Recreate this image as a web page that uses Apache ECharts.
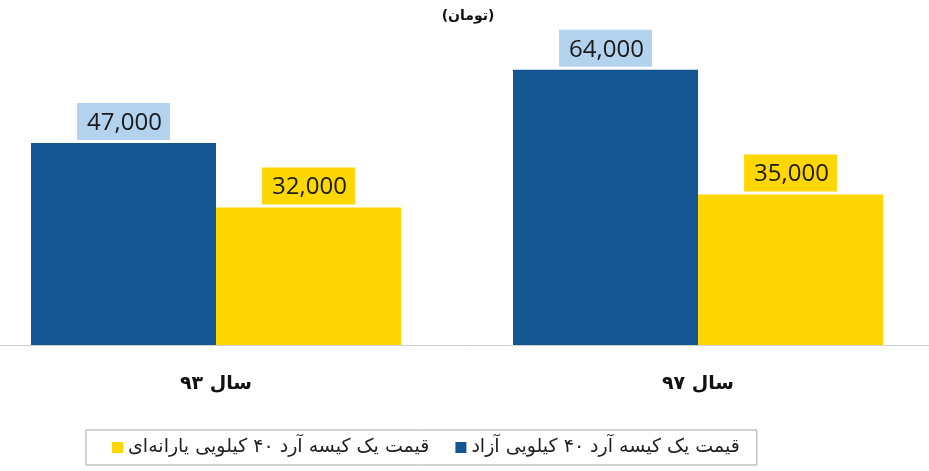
<!DOCTYPE html>
<html>
<head>
<meta charset="utf-8">
<script src="https://cdn.jsdelivr.net/npm/echarts@6/dist/echarts.min.js"></script>
<style>html,body{margin:0;padding:0;background:#fff}#c{width:929px;height:471px}</style>
</head>
<body>
<div id="c"></div>
<script>
const categories = ['سال ۹۳', 'سال ۹۷'];
const seriesNames = ['قیمت یک کیسه آرد ۴۰ کیلویی آزاد', 'قیمت یک کیسه آرد ۴۰ کیلویی یارانه‌ای'];
const freeValues = [47000, 64000];
const subsidizedValues = [32000, 35000];
const unitTitle = '(تومان)';

const fmt = v => v.toLocaleString('en-US');
const chart = echarts.init(document.getElementById('c'));
const labelBase = {
  show: true, position: 'top', distance: 3,
  fontFamily: 'Open Sans', fontSize: 24, color: '#1a1a1a',
  padding: [8, 8, 5, 10],
  formatter: p => fmt(p.value)
};
chart.setOption({
  animation: false,
  title: {
    text: unitTitle, left: 463, top: 4, textAlign: 'center',
    textStyle: { fontFamily: 'DejaVu Sans', fontWeight: 'bold', fontSize: 14, color: '#111' }
  },
  legend: {
    data: [seriesNames[1], seriesNames[0]],
    left: 86, top: 430,
    padding: [8, 17, 8, 26],
    itemGap: 26, itemWidth: 11, itemHeight: 11, icon: 'rect',
    borderColor: '#a6a6a6', borderWidth: 1,
    textStyle: { fontFamily: 'DejaVu Sans', fontSize: 19, color: '#222' }
  },
  grid: { left: -25, right: -10, top: 44, height: 301, outerBoundsMode: 'none', containLabel: false },
  xAxis: {
    type: 'category', data: categories,
    axisLine: { lineStyle: { color: '#cfcfcf', width: 1 } },
    axisTick: { show: false },
    axisLabel: { margin: 30, fontFamily: 'DejaVu Sans', fontWeight: 'bold', fontSize: 19, color: '#111' }
  },
  yAxis: { type: 'value', min: 0, max: 70000, show: false, splitLine: { show: false } },
  series: [
    {
      name: seriesNames[0], type: 'bar', data: freeValues, barWidth: 185, barGap: '0%',
      itemStyle: { color: '#145694' },
      label: Object.assign({}, labelBase, { backgroundColor: '#b3d2ee' })
    },
    {
      name: seriesNames[1], type: 'bar', data: subsidizedValues, barWidth: 185,
      itemStyle: { color: '#fed600' },
      label: Object.assign({}, labelBase, { backgroundColor: '#fed600' })
    }
  ]
});
</script>
</body>
</html>
